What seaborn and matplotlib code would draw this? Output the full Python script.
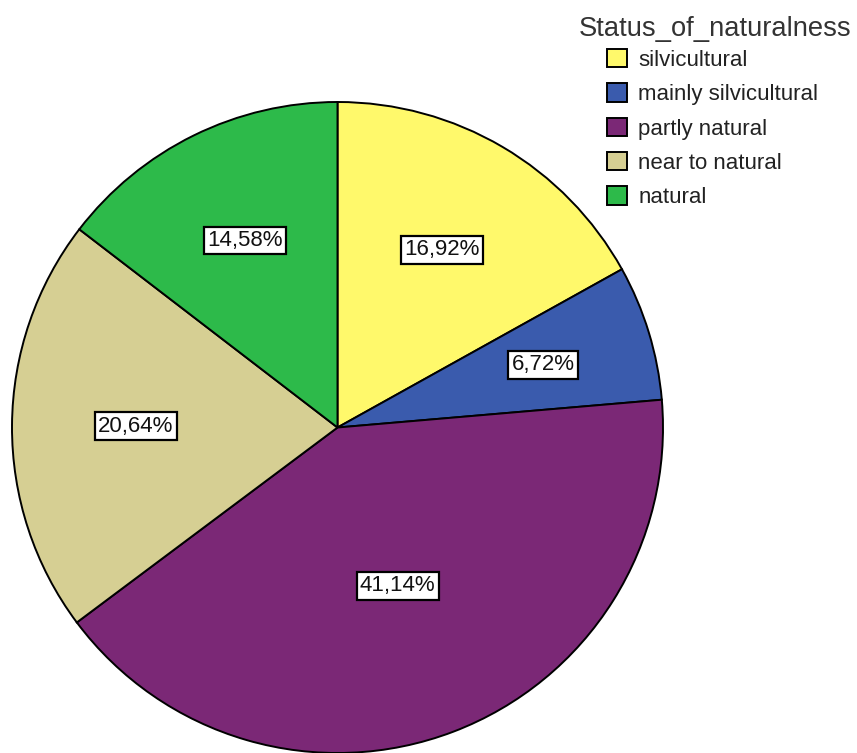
import numpy as np
import matplotlib
matplotlib.use("Agg")
import matplotlib.pyplot as plt
import seaborn as sns

# Share of stands by naturalness status (percent)
categories = ["silvicultural", "mainly silvicultural", "partly natural",
              "near to natural", "natural"]
shares = [16.92, 6.72, 41.14, 20.64, 14.58]
slice_colors = ["#FFF96B", "#3A5BAD", "#7B2876", "#D6CF93", "#2DBA4A"]
legend_title = "Status_of_naturalness"

sns.set_theme(style="white")
plt.rcParams["font.family"] = ["Liberation Sans", "DejaVu Sans"]

W, H = 857, 753
fig = plt.figure(figsize=(W / 100, H / 100), dpi=100)
fig.patch.set_facecolor("white")

# square axes holding a unit-radius pie
cx, cy, r = 337.5, 427.5, 325.5
ax = fig.add_axes([(cx - r) / W, (H - cy - r) / H, 2 * r / W, 2 * r / H])
palette = sns.color_palette(slice_colors)

wedges, _ = ax.pie(
    shares,
    colors=palette,
    startangle=90,
    counterclock=False,
    radius=1.0,
    wedgeprops=dict(edgecolor="black", linewidth=1.4),
)
ax.set_xlim(-1, 1)
ax.set_ylim(-1, 1)
ax.set_aspect("auto")
ax.axis("off")

# percentage labels in boxed text, placed along each slice's mid-angle
label_dist = [0.633, 0.66, 0.52, 0.619, 0.64]
for w, val, d in zip(wedges, shares, label_dist):
    ang = np.deg2rad((w.theta1 + w.theta2) / 2)
    ax.text(d * np.cos(ang), d * np.sin(ang), f"{val:.2f}%".replace(".", ","),
            ha="center", va="center", fontsize=16, color="#111111",
            bbox=dict(boxstyle="square,pad=0.15", fc="white", ec="black", lw=1.6))

# legend title and entries
fig.text(579 / W, 1 - 36 / H, legend_title, fontsize=19.7, color="#333333",
         ha="left", va="baseline")

leg = fig.legend(
    wedges, categories,
    loc="upper left",
    bbox_to_anchor=(607 / W, 1 - 49 / H),
    frameon=False,
    fontsize=16,
    handlelength=0.9,
    handleheight=0.9,
    handletextpad=0.5,
    labelspacing=0.56,
    borderaxespad=0,
    borderpad=0,
)
for h in leg.legend_handles:
    h.set_edgecolor("black")
    h.set_linewidth(1.4)
for t in leg.get_texts():
    t.set_color("#222222")

fig.savefig("out.png", dpi=100, facecolor="white")
